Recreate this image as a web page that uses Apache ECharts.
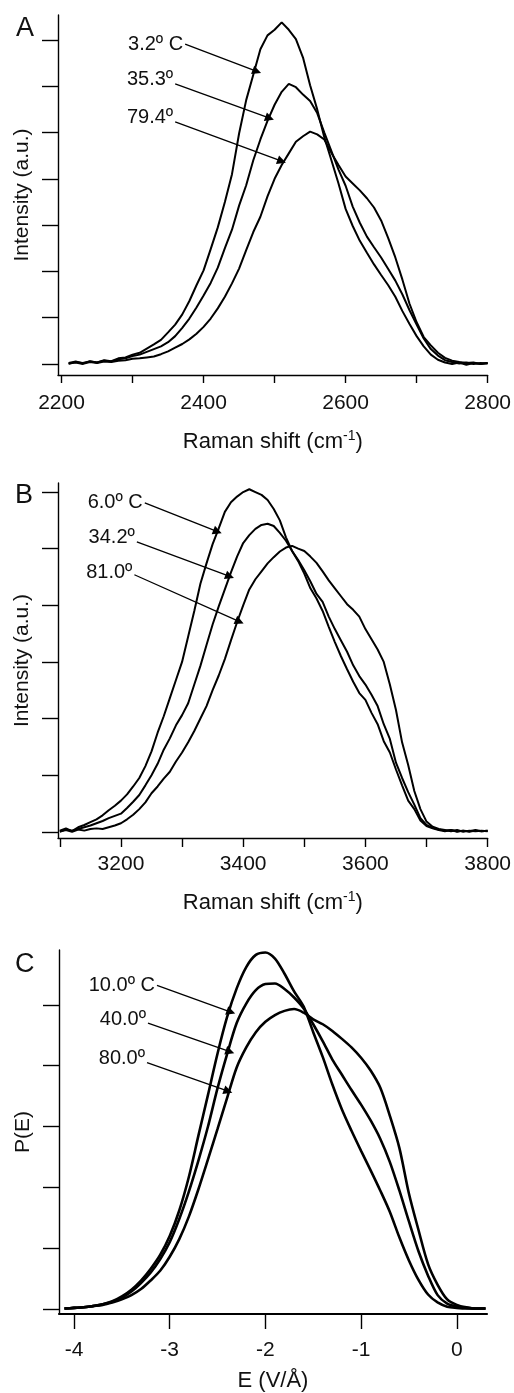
<!DOCTYPE html>
<html>
<head>
<meta charset="utf-8">
<script src="https://cdn.jsdelivr.net/npm/echarts@6/dist/echarts.min.js"></script>
<style>
  html, body { margin: 0; padding: 0; background: #fff; }
  #chart { width: 514px; height: 1393px; }
</style>
</head>
<body>
<div id="chart"></div>
<script>
// Panel A: OD stretch region
const shiftA = [2210, 2220, 2230, 2240, 2250, 2260, 2270, 2280, 2290, 2300,
  2310, 2320, 2330, 2340, 2350, 2360, 2370, 2380, 2390, 2400,
  2410, 2420, 2430, 2440, 2450, 2460, 2470, 2480, 2490, 2500,
  2510, 2520, 2530, 2540, 2550, 2560, 2570, 2580, 2590, 2600,
  2610, 2620, 2630, 2640, 2650, 2660, 2670, 2680, 2690, 2700,
  2710, 2720, 2730, 2740, 2750, 2760, 2770, 2780, 2790, 2800];
const odAt3p2 = [0.02, 0.05, 0.01, 0.06, 0.03, 0.08, 0.06, 0.12, 0.14, 0.20,
  0.24, 0.33, 0.42, 0.52, 0.68, 0.85, 1.07, 1.36, 1.70, 2.02,
  2.48, 2.95, 3.50, 4.10, 4.98, 5.70, 6.25, 6.80, 7.10, 7.22,
  7.38, 7.22, 7.02, 6.62, 6.02, 5.50, 4.90, 4.40, 3.90, 3.35,
  2.98, 2.66, 2.40, 2.15, 1.92, 1.70, 1.45, 1.14, 0.86, 0.60,
  0.38, 0.20, 0.09, 0.03, 0.00, 0.03, -0.02, 0.02, 0.00, 0.02];
const odAt35p3 = [0.00, 0.04, 0.02, 0.05, 0.03, 0.07, 0.05, 0.10, 0.12, 0.17,
  0.20, 0.26, 0.32, 0.38, 0.47, 0.60, 0.78, 0.98, 1.22, 1.48,
  1.75, 2.08, 2.50, 2.90, 3.42, 3.86, 4.40, 4.85, 5.25, 5.60,
  5.88, 6.05, 5.98, 5.82, 5.68, 5.42, 5.00, 4.60, 4.20, 3.85,
  3.40, 3.05, 2.75, 2.52, 2.30, 2.05, 1.80, 1.50, 1.16, 0.85,
  0.55, 0.32, 0.18, 0.08, 0.04, 0.01, 0.03, 0.00, 0.02, 0.01];
const odAt79p4 = [0.01, 0.03, 0.00, 0.04, 0.02, 0.05, 0.04, 0.07, 0.08, 0.11,
  0.12, 0.14, 0.16, 0.21, 0.27, 0.35, 0.43, 0.53, 0.65, 0.80,
  0.98, 1.20, 1.45, 1.74, 2.06, 2.46, 2.85, 3.18, 3.62, 4.00,
  4.30, 4.55, 4.80, 4.92, 5.02, 4.96, 4.85, 4.56, 4.30, 4.05,
  3.90, 3.75, 3.58, 3.38, 3.10, 2.72, 2.30, 1.82, 1.30, 0.90,
  0.58, 0.40, 0.24, 0.13, 0.07, 0.04, 0.02, 0.03, 0.00, 0.02];

// Panel B: OH stretch region
const shiftB = [3100, 3110, 3120, 3130, 3140, 3150, 3160, 3170, 3180, 3190,
  3200, 3210, 3220, 3230, 3240, 3250, 3260, 3270, 3280, 3290,
  3300, 3310, 3320, 3330, 3340, 3350, 3360, 3370, 3380, 3390,
  3400, 3410, 3420, 3430, 3440, 3450, 3460, 3470, 3480, 3490,
  3500, 3510, 3520, 3530, 3540, 3550, 3560, 3570, 3580, 3590,
  3600, 3610, 3620, 3630, 3640, 3650, 3660, 3670, 3680, 3690,
  3700, 3710, 3720, 3730, 3740, 3750, 3760, 3770, 3780, 3790, 3800];
const ohAt6p0 = [0.02, 0.06, 0.01, 0.08, 0.12, 0.17, 0.22, 0.29, 0.38, 0.46,
  0.55, 0.66, 0.80, 0.95, 1.16, 1.42, 1.75, 2.04, 2.36, 2.68,
  3.00, 3.45, 3.90, 4.38, 4.74, 5.08, 5.36, 5.65, 5.82, 5.92,
  6.00, 6.05, 6.00, 5.95, 5.86, 5.70, 5.50, 5.20, 4.96, 4.78,
  4.56, 4.30, 4.12, 3.90, 3.62, 3.35, 3.10, 2.87, 2.65, 2.45,
  2.33, 2.10, 1.90, 1.60, 1.40, 1.10, 0.82, 0.55, 0.40, 0.20,
  0.10, 0.06, 0.03, 0.01, 0.03, 0.00, 0.02, 0.01, 0.03, 0.01, 0.02];
const ohAt34p2 = [0.00, 0.04, 0.02, 0.05, 0.08, 0.11, 0.15, 0.19, 0.24, 0.28,
  0.32, 0.42, 0.53, 0.65, 0.82, 1.00, 1.20, 1.45, 1.65, 1.88,
  2.06, 2.27, 2.60, 2.93, 3.30, 3.66, 3.98, 4.28, 4.58, 4.86,
  5.10, 5.24, 5.35, 5.42, 5.44, 5.40, 5.28, 5.14, 4.96, 4.80,
  4.62, 4.42, 4.20, 4.06, 3.80, 3.58, 3.38, 3.18, 2.94, 2.75,
  2.60, 2.42, 2.22, 1.90, 1.64, 1.22, 0.95, 0.70, 0.48, 0.24,
  0.12, 0.07, 0.04, 0.02, 0.03, 0.01, 0.02, 0.00, 0.02, 0.01, 0.02];
const ohAt81p0 = [0.01, 0.03, 0.00, 0.04, 0.02, 0.05, 0.06, 0.05, 0.08, 0.11,
  0.15, 0.22, 0.30, 0.40, 0.52, 0.68, 0.80, 0.94, 1.06, 1.24,
  1.40, 1.58, 1.78, 2.00, 2.22, 2.50, 2.76, 3.05, 3.38, 3.70,
  4.00, 4.28, 4.46, 4.60, 4.74, 4.85, 4.95, 5.02, 5.05, 5.00,
  4.96, 4.86, 4.75, 4.60, 4.44, 4.30, 4.16, 4.02, 3.92, 3.80,
  3.58, 3.40, 3.22, 3.00, 2.60, 2.15, 1.58, 1.18, 0.72, 0.40,
  0.18, 0.09, 0.05, 0.03, 0.01, 0.03, 0.00, 0.02, 0.01, 0.02, 0.01];

// Panel C: electric field distributions
const fieldC = [-4.1, -4.0, -3.9, -3.8, -3.7, -3.6, -3.5, -3.4, -3.3, -3.2,
  -3.1, -3.0, -2.9, -2.8, -2.7, -2.6, -2.5, -2.4, -2.3, -2.2,
  -2.1, -2.0, -1.9, -1.8, -1.7, -1.6, -1.5, -1.4, -1.3, -1.2,
  -1.1, -1.0, -0.9, -0.8, -0.7, -0.6, -0.5, -0.4, -0.3, -0.2,
  -0.1, 0.0, 0.1, 0.2, 0.3];
const pAt10 = [0.01, 0.02, 0.03, 0.05, 0.08, 0.13, 0.21, 0.32, 0.47, 0.66,
  0.89, 1.20, 1.62, 2.17, 2.85, 3.52, 4.20, 4.80, 5.27, 5.62,
  5.82, 5.86, 5.76, 5.51, 5.22, 4.97, 4.55, 4.14, 3.69, 3.28,
  2.93, 2.60, 2.28, 1.95, 1.60, 1.18, 0.80, 0.48, 0.24, 0.11,
  0.04, 0.02, 0.01, 0.01, 0.01];
const pAt40 = [0.01, 0.02, 0.03, 0.05, 0.08, 0.12, 0.19, 0.29, 0.43, 0.60,
  0.82, 1.10, 1.48, 1.93, 2.44, 3.00, 3.63, 4.19, 4.70, 5.02,
  5.24, 5.34, 5.35, 5.26, 5.12, 4.94, 4.68, 4.40, 4.10, 3.85,
  3.60, 3.36, 3.10, 2.80, 2.42, 1.95, 1.44, 0.95, 0.55, 0.23,
  0.09, 0.04, 0.02, 0.01, 0.01];
const pAt80 = [0.01, 0.02, 0.03, 0.05, 0.07, 0.11, 0.16, 0.23, 0.33, 0.47,
  0.63, 0.86, 1.15, 1.52, 1.97, 2.46, 2.96, 3.47, 3.97, 4.30,
  4.55, 4.72, 4.83, 4.90, 4.93, 4.87, 4.76, 4.68, 4.57, 4.44,
  4.30, 4.13, 3.92, 3.64, 3.18, 2.65, 1.90, 1.30, 0.74, 0.40,
  0.16, 0.07, 0.03, 0.01, 0.01];

const ticksA = [2200, 2300, 2400, 2500, 2600, 2700, 2800];
const labelsA = [2200, 2400, 2600, 2800];
const ticksB = [3100, 3200, 3300, 3400, 3500, 3600, 3700, 3800];
const labelsB = [3200, 3400, 3600, 3800];
const ticksC = [-4, -3, -2, -1, 0];
const yTicksA = [0, 1, 2, 3, 4, 5, 6, 7];
const yTicksB = [0, 1, 2, 3, 4, 5, 6];
const yTicksC = [0, 1, 2, 3, 4, 5];

const font = "'Liberation Sans', Arial, Helvetica, sans-serif";
const ink = "#111";

function pairs(xs, ys) {
  return xs.map((x, i) => [x, ys[i]]);
}

function xAxisFor(idx, min, max, ticks, labels, name, tickLen, lineWidth, labelGap, nameGap) {
  return {
    type: "value",
    gridIndex: idx,
    min: min,
    max: max,
    axisLine: { show: true, onZero: false, lineStyle: { color: "#000", width: lineWidth } },
    axisTick: { show: true, length: tickLen, customValues: ticks, lineStyle: { color: "#000", width: 1.4 } },
    axisLabel: {
      customValues: labels, margin: labelGap, fontSize: 21, color: ink, fontFamily: font,
      formatter: (v) => String(v)
    },
    splitLine: { show: false },
    name: name,
    nameLocation: "middle",
    nameGap: nameGap,
    nameTextStyle: {
      fontSize: 22, color: ink, fontFamily: font,
      rich: { sup: { fontSize: 14, padding: [0, 0, 12, 0], color: ink, fontFamily: font } }
    }
  };
}

function yAxisFor(idx, min, max, ticks, name) {
  return {
    type: "value",
    gridIndex: idx,
    min: min,
    max: max,
    axisLine: { show: true, onZero: false, lineStyle: { color: "#000", width: 1.4 } },
    axisTick: { show: true, length: 16, customValues: ticks, lineStyle: { color: "#000", width: 1.4 } },
    axisLabel: { show: false },
    splitLine: { show: false },
    name: name,
    nameLocation: "middle",
    nameRotate: 90,
    nameGap: 25,
    nameTextStyle: { fontSize: 21, color: ink, fontFamily: font }
  };
}

function curve(idx, xs, ys, width, smooth, label, from, to, lift) {
  return {
    type: "line",
    xAxisIndex: idx,
    yAxisIndex: idx,
    data: pairs(xs, ys),
    symbol: "none",
    smooth: smooth,
    silent: true,
    lineStyle: { color: "#000", width: width },
    markLine: {
      silent: true,
      symbol: ["none", "triangle"],
      symbolSize: 9,
      itemStyle: { color: "#000" },
      label: { show: false },
      lineStyle: { color: "#000", width: 1.3, type: "solid" },
      data: [[{ coord: from }, { coord: to }]]
    },
    markPoint: {
      silent: true,
      symbol: "circle",
      symbolSize: 0,
      label: {
        show: true, position: "left", distance: 2, offset: [0, lift],
        formatter: "{b}", fontSize: 20, color: ink, fontFamily: font
      },
      data: [{ name: label, coord: from }]
    }
  };
}

const chart = echarts.init(document.getElementById("chart"));

const option = {
  animation: false,
  backgroundColor: "#fff",
  grid: [
    { left: 58, top: 15, width: 430, height: 360 },
    { left: 58, top: 483, width: 430, height: 355 },
    { left: 59, top: 950, width: 428, height: 367 }
  ],
  xAxis: [
    xAxisFor(0, 2195, 2800, ticksA, labelsA, "Raman shift (cm{sup|-1})", 8, 1.4, 18, 54),
    xAxisFor(1, 3097, 3800, ticksB, labelsB, "Raman shift (cm{sup|-1})", 9, 1.4, 16, 52),
    xAxisFor(2, -4.157, 0.316, ticksC, ticksC, "E (V/Å)", 15, 2.2, 26, 56)
  ],
  yAxis: [
    yAxisFor(0, -0.24, 7.54, yTicksA, "Intensity (a.u.)"),
    yAxisFor(1, -0.11, 6.16, yTicksB, "Intensity (a.u.)"),
    yAxisFor(2, -0.08, 5.9, yTicksC, "P(E)")
  ],
  graphic: [
    { type: "text", left: 16, top: 15, style: { text: "A", fontSize: 27, fill: ink, fontFamily: font } },
    { type: "text", left: 15, top: 482, style: { text: "B", fontSize: 27, fill: ink, fontFamily: font } },
    { type: "text", left: 15, top: 951, style: { text: "C", fontSize: 27, fill: ink, fontFamily: font } }
  ],
  series: [
    curve(0, shiftA, odAt3p2, 2, false, "3.2º C", [2374, 6.91], [2475, 6.32], 0),
    curve(0, shiftA, odAt35p3, 2, false, "35.3º", [2360, 6.05], [2493, 5.31], -4),
    curve(0, shiftA, odAt79p4, 2, false, "79.4º", [2360, 5.23], [2510, 4.38], -4),
    curve(1, shiftB, ohAt6p0, 2, false, "6.0º C", [3239, 5.81], [3358, 5.30], 0),
    curve(1, shiftB, ohAt34p2, 2, false, "34.2º", [3226, 5.12], [3378, 4.51], -4),
    curve(1, shiftB, ohAt81p0, 2, false, "81.0º", [3222, 4.54], [3394, 3.71], -2),
    curve(2, fieldC, pAt10, 2.6, 0.3, "10.0º C", [-3.133, 5.32], [-2.36, 4.88], 0),
    curve(2, fieldC, pAt40, 2.6, 0.3, "40.0º", [-3.227, 4.70], [-2.37, 4.23], -4),
    curve(2, fieldC, pAt80, 2.6, 0.3, "80.0º", [-3.237, 4.05], [-2.39, 3.58], -4)
  ]
};

chart.setOption(option);
</script>
</body>
</html>
